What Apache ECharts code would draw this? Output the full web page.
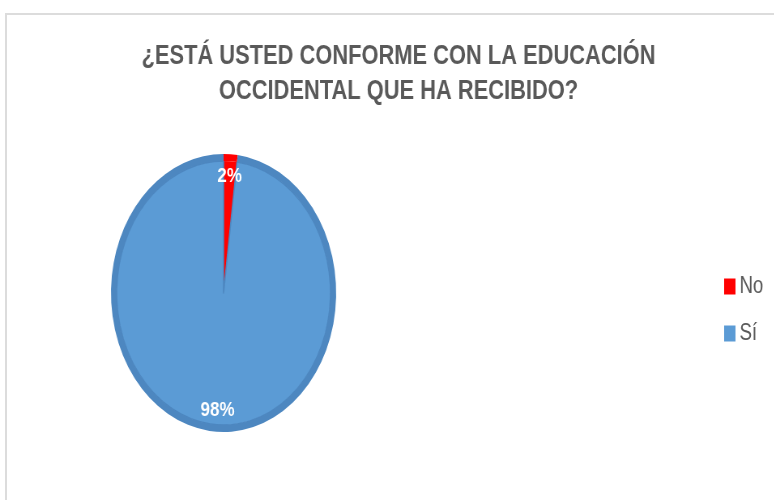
<!DOCTYPE html>
<html>
<head>
<meta charset="utf-8">
<script src="https://cdn.jsdelivr.net/npm/echarts@6/dist/echarts.min.js"></script>
<style>
  html, body { margin: 0; padding: 0; background: #fff; }
  #wrap { position: relative; width: 774px; height: 500px; overflow: hidden; background: #fff; }
  #frame { position: absolute; left: 5px; top: 13px; right: -5px; bottom: -5px;
           border-left: 2px solid #dcdcdc; border-top: 2px solid #dcdcdc; }
  /* el grafico original viene estrechado en horizontal */
  #chart { position: absolute; left: 0; top: 0; width: 955px; height: 500px;
           transform: scaleX(0.81); transform-origin: 0 0; }
</style>
</head>
<body>
<div id="wrap">
  <div id="frame"></div>
  <div id="chart"></div>
</div>
<script>
// datos
var titleText = '¿ESTÁ USTED CONFORME CON LA EDUCACIÓN\nOCCIDENTAL QUE HA RECIBIDO?';
var categories = ['No', 'Sí'];
var values = [2, 98];
var colors = ['#ff0000', '#5b9bd5'];
var edgeColors = ['#ff0000', '#4d87c0'];

var myChart = echarts.init(document.getElementById('chart'));

// relleno del pastel
var pieData = categories.map(function (name, i) {
  return {
    name: name,
    value: values[i],
    itemStyle: {
      color: colors[i],
      borderColor: edgeColors[i],
      borderWidth: i === 0 ? 0 : 1.5
    }
  };
});

// anillo exterior mas oscuro (mismos datos)
var ringData = categories.map(function (name, i) {
  return { name: name, value: values[i], itemStyle: { color: edgeColors[i] } };
});

var labelData = categories.map(function (name, i) {
  return { name: name, value: values[i] };
});

var option = {
  animation: false,
  backgroundColor: 'transparent',
  title: {
    text: titleText,
    left: 487,
    textAlign: 'center',
    top: 34,
    textStyle: {
      fontFamily: 'Liberation Sans',
      fontSize: 27,
      fontWeight: 'bold',
      color: '#595959',
      lineHeight: 35
    }
  },
  legend: {
    orient: 'vertical',
    left: 889,
    top: 270,
    itemWidth: 14,
    itemHeight: 16,
    itemGap: 24,
    itemStyle: { borderWidth: 0 },
    icon: 'rect',
    data: categories,
    textStyle: {
      fontFamily: 'Liberation Sans',
      fontSize: 23,
      color: '#595959'
    }
  },
  series: [
    {
      type: 'pie',
      center: [276, 293],
      radius: 132,
      startAngle: 90,
      clockwise: true,
      silent: true,
      label: { show: false },
      labelLine: { show: false },
      data: pieData
    },
    {
      type: 'pie',
      center: [276, 293],
      radius: [132, 139],
      startAngle: 90,
      clockwise: true,
      silent: true,
      label: { show: false },
      labelLine: { show: false },
      data: ringData
    },
    {
      // solo etiquetas, hacia el borde como en Excel
      type: 'pie',
      center: [276, 293],
      radius: [92, 137],
      startAngle: 90,
      clockwise: true,
      silent: true,
      itemStyle: { color: 'rgba(0,0,0,0)' },
      label: {
        show: true,
        position: 'inside',
        formatter: '{d}%',
        fontFamily: 'Liberation Sans',
        fontSize: 21,
        fontWeight: 'bold',
        color: '#ffffff'
      },
      labelLine: { show: false },
      data: labelData
    }
  ]
};

myChart.setOption(option);
</script>
</body>
</html>
